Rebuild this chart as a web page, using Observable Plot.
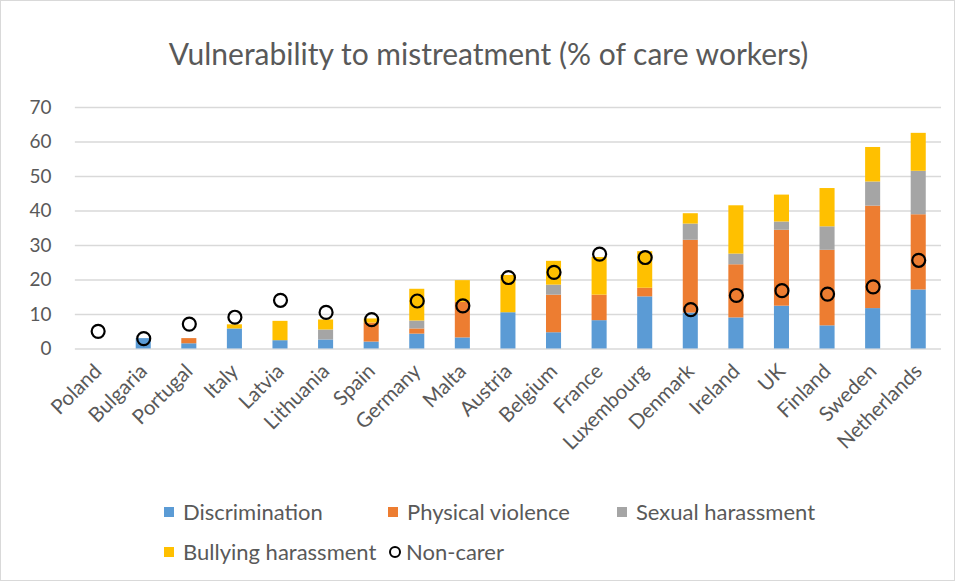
<!DOCTYPE html>
<html>
<head>
<meta charset="utf-8">
<script src="https://cdn.jsdelivr.net/npm/d3@7"></script>
<script src="https://cdn.jsdelivr.net/npm/@observablehq/plot@0.6"></script>
<style>
  html, body { margin: 0; padding: 0; background: #fff; }
  #wrap { position: relative; width: 953px; height: 579px; border: 1px solid #D9D9D9; overflow: hidden; font-family: Lato, "Liberation Sans", sans-serif; color: #595959; }
  #title { position: absolute; left: 11px; top: 0; width: 100%; height: 90px; line-height: 104px; text-align: center; font-size: 30px; color: #595959; }
  #chart { position: absolute; left: 0; top: 89px; }
  .lg { position: absolute; font-size: 22px; color: #595959; white-space: nowrap; line-height: 24px; }
  .sw { position: absolute; width: 10px; height: 10px; }
  .circ { position: absolute; width: 8px; height: 8px; border: 2px solid #000; border-radius: 50%; }
</style>
</head>
<body>
<div id="wrap">
  <div id="title">Vulnerability to mistreatment (% of care workers)</div>
  <div id="chart"></div>
  <div id="legend"></div>
</div>
<script>
const countries = ["Poland","Bulgaria","Portugal","Italy","Latvia","Lithuania","Spain","Germany","Malta","Austria","Belgium","France","Luxembourg","Denmark","Ireland","UK","Finland","Sweden","Netherlands"];
const seriesNames = ["Discrimination","Physical violence","Sexual harassment","Bullying harassment"];
const seriesColors = ["#5B9BD5","#ED7D31","#A5A5A5","#FFC000"];
const discrimination = [0,3.0,1.5,5.8,2.4,2.6,2.0,4.3,3.2,10.5,4.7,8.2,15.1,10.4,9.0,12.4,6.7,11.7,17.1];
const physicalViolence = [0,0,1.5,0,0,0,5.5,1.5,10.3,0,10.9,7.4,2.5,21.1,15.4,22.0,21.9,29.7,21.8];
const sexualHarassment = [0,0,0,0,0,2.9,0,2.3,0,0,2.9,0,0,4.7,3.1,2.4,6.8,7.0,12.6];
const bullyingHarassment = [0,0,0,1.2,5.6,2.9,1.2,9.2,6.3,10.8,6.9,10.9,10.6,3.0,14.0,7.8,11.1,10.0,11.0];
const nonCarer = [5.1,3.0,7.2,9.2,14.1,10.6,8.5,13.9,12.5,20.7,22.2,27.5,26.5,11.4,15.5,16.9,15.9,18.0,25.7];
const yTicks = [0,10,20,30,40,50,60,70];

const seriesValues = [discrimination, physicalViolence, sexualHarassment, bullyingHarassment];
const rows = [];
seriesNames.forEach((s, si) => {
  countries.forEach((c, ci) => rows.push({country: c, series: s, value: seriesValues[si][ci]}));
});
const dots = countries.map((c, i) => ({country: c, value: nonCarer[i]}));

const chart = Plot.plot({
  width: 955,
  height: 400,
  marginTop: 17,
  marginBottom: 141,
  marginLeft: 74,
  marginRight: 13,
  style: {fontFamily: "Lato, 'Liberation Sans', sans-serif", fontSize: "18px", color: "#595959", background: "transparent"},
  x: {domain: countries, padding: 0, round: false, label: null},
  y: {domain: [0, 70], label: null},
  color: {domain: seriesNames, range: seriesColors},
  marks: [
    Plot.ruleY(yTicks, {stroke: "#D9D9D9", strokeWidth: 1.5}),
    Plot.axisY({ticks: yTicks, tickSize: 0, tickPadding: 24, fontSize: 19, label: null}),
    Plot.axisX({tickSize: 0, tickRotate: -45, tickPadding: 19, fontSize: 20.5, label: null}),
    Plot.barY(rows, {x: "country", y: "value", fill: "series", order: seriesNames, insetLeft: 15.3, insetRight: 15.3}),
    Plot.dot(dots, {x: "country", y: "value", r: 6.5, stroke: "#000", strokeWidth: 2.2, fill: "none"})
  ]
});
document.getElementById("chart").appendChild(chart);

// legend
const legend = document.getElementById("legend");
const legendPos = [[163, 511],[387, 511],[616, 511],[163, 551]];
seriesNames.forEach((s, i) => {
  const [x, y] = legendPos[i];
  const sw = document.createElement("div");
  sw.className = "sw";
  sw.style.left = x + "px"; sw.style.top = (y - 5) + "px"; sw.style.background = seriesColors[i];
  legend.appendChild(sw);
  const t = document.createElement("div");
  t.className = "lg";
  t.style.left = (x + 19) + "px"; t.style.top = (y - 12) + "px";
  t.textContent = s;
  legend.appendChild(t);
});
const c = document.createElement("div");
c.className = "circ"; c.style.left = "388px"; c.style.top = "545px";
legend.appendChild(c);
const t2 = document.createElement("div");
t2.className = "lg"; t2.style.left = "405px"; t2.style.top = "539px"; t2.textContent = "Non-carer";
legend.appendChild(t2);
</script>
</body>
</html>
